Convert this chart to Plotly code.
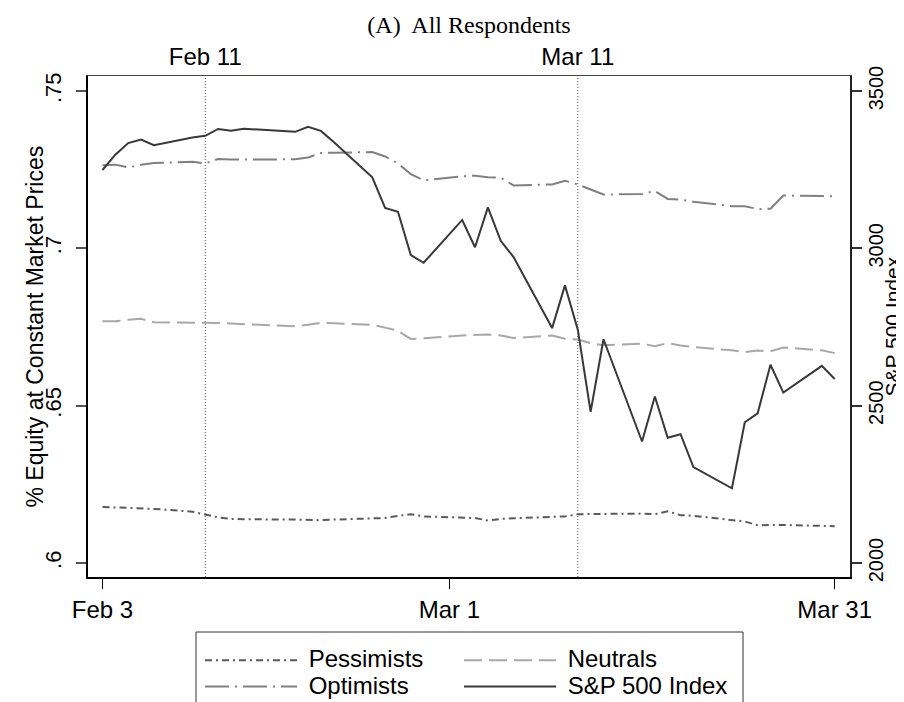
import plotly.graph_objects as go

dates = ["2020-02-03", "2020-02-04", "2020-02-05", "2020-02-06", "2020-02-07",
         "2020-02-10", "2020-02-11", "2020-02-12", "2020-02-13", "2020-02-14",
         "2020-02-18", "2020-02-19", "2020-02-20", "2020-02-21",
         "2020-02-24", "2020-02-25", "2020-02-26", "2020-02-27", "2020-02-28",
         "2020-03-02", "2020-03-03", "2020-03-04", "2020-03-05", "2020-03-06",
         "2020-03-09", "2020-03-10", "2020-03-11", "2020-03-12", "2020-03-13",
         "2020-03-16", "2020-03-17", "2020-03-18", "2020-03-19", "2020-03-20",
         "2020-03-23", "2020-03-24", "2020-03-25", "2020-03-26", "2020-03-27",
         "2020-03-30", "2020-03-31"]

pessimists = [0.6178, 0.6177, 0.6174, 0.6174, 0.6172, 0.6163, 0.6155, 0.6145, 0.6140, 0.6139,
              0.6138, 0.6137, 0.6136, 0.6138, 0.6141, 0.6143, 0.6150, 0.6155, 0.6148,
              0.6146, 0.6143, 0.6135, 0.6140, 0.6142, 0.6146, 0.6148, 0.6155, 0.6156, 0.6156,
              0.6157, 0.6155, 0.6164, 0.6152, 0.6150, 0.6138, 0.6132, 0.6120, 0.6121, 0.6121,
              0.6118, 0.6117]

neutrals = [0.6768, 0.6768, 0.6773, 0.6776, 0.6765, 0.6765, 0.6764, 0.6763, 0.6761, 0.6759,
            0.6752, 0.6757, 0.6763, 0.6762, 0.6757, 0.6748, 0.6738, 0.6712, 0.6714,
            0.6723, 0.6724, 0.6726, 0.6723, 0.6715, 0.6723, 0.6713, 0.6710, 0.6699, 0.6692,
            0.6697, 0.6689, 0.6699, 0.6691, 0.6686, 0.6676, 0.6670, 0.6675, 0.6673, 0.6685,
            0.6676, 0.6667]

optimists = [0.7264, 0.7266, 0.7257, 0.7266, 0.7271, 0.7275, 0.7270, 0.7284, 0.7282, 0.7282,
             0.7283, 0.7289, 0.7303, 0.7304, 0.7306, 0.7292, 0.7270, 0.7236, 0.7216,
             0.7229, 0.7231, 0.7226, 0.7224, 0.7200, 0.7203, 0.7215, 0.7203, 0.7187, 0.7171,
             0.7173, 0.7182, 0.7157, 0.7155, 0.7148, 0.7134, 0.7134, 0.7125, 0.7126, 0.7168,
             0.7166, 0.7165]

sp500 = [3248.92, 3297.59, 3334.69, 3345.78, 3327.71, 3352.09, 3357.75, 3379.45, 3373.94, 3380.16,
         3370.29, 3386.15, 3373.23, 3337.75, 3225.89, 3128.21, 3116.39, 2978.76, 2954.22,
         3090.23, 3003.37, 3130.12, 3023.94, 2972.37, 2746.56, 2882.23, 2741.38, 2480.64, 2711.02,
         2386.13, 2529.19, 2398.10, 2409.39, 2304.92, 2237.40, 2447.33, 2475.56, 2630.07, 2541.47,
         2626.65, 2584.59]

bottom_ticks = ["2020-02-03", "2020-03-01", "2020-03-31"]
bottom_labels = ["Feb 3", "Mar 1", "Mar 31"]
event_dates = ["2020-02-11", "2020-03-11"]
event_labels = ["Feb 11", "Mar 11"]
left_ticks = [0.6, 0.65, 0.7, 0.75]
left_labels = [".6", ".65", ".7", ".75"]
right_ticks = [2000, 2500, 3000, 3500]
right_labels = ["2000", "2500", "3000", "3500"]
left_title = "% Equity at Constant Market Prices"
right_title = "S&P 500 Index"

SANS = "Liberation Sans, Arial, sans-serif"
SERIF = "Liberation Serif, Times New Roman, serif"

# plot-area geometry in pixels
W, H = 904, 702
L, R, T, B = 80, 842, 68, 569
PW, PH = R - L, B - T


def px_x(p):
    return (p - L) / PW


def px_y(p):
    return (B - p) / PH


def lname(s):
    return '<span style="font-size:24px">\u00a0' + s + '</span>'


fig = go.Figure()
fig.add_trace(go.Scatter(x=dates, y=pessimists, name=lname("Pessimists"), mode="lines",
                         legend="legend",
                         line=dict(color="#5a5a5a", width=2, dash="7px,4px,2px,4px")))
fig.add_trace(go.Scatter(x=dates, y=optimists, name=lname("Optimists"), mode="lines",
                         legend="legend",
                         line=dict(color="#808080", width=2, dash="24px,6px,2px,6px")))
fig.add_trace(go.Scatter(x=dates, y=neutrals, name=lname("Neutrals"), mode="lines",
                         legend="legend2",
                         line=dict(color="#a8a8a8", width=2, dash="18px,7px")))
fig.add_trace(go.Scatter(x=dates, y=sp500, name=lname("S&P 500 Index"), mode="lines",
                         yaxis="y2", legend="legend2",
                         line=dict(color="#383838", width=2)))
# invisible trace to carry the top axis
fig.add_trace(go.Scatter(x=event_dates, y=[0.7, 0.7], xaxis="x2", mode="lines",
                         line=dict(width=0), showlegend=False, hoverinfo="skip", opacity=0))

for d in event_dates:
    fig.add_shape(type="line", xref="x", yref="paper", x0=d, x1=d, y0=0, y1=1,
                  line=dict(color="#555555", width=1, dash="1px,2px"), layer="below")

# legend frame
fig.add_shape(type="rect", xref="paper", yref="paper",
              x0=px_x(188), x1=px_x(735), y0=px_y(701), y1=px_y(624),
              line=dict(color="#333333", width=1), fillcolor="rgba(0,0,0,0)")

# axis titles
fig.add_annotation(text=left_title, xref="paper", yref="paper", x=px_x(26), y=0.5,
                   xanchor="center", yanchor="middle", textangle=-90, showarrow=False,
                   font=dict(family=SANS, size=23, color="black"))
fig.add_annotation(text=right_title, xref="paper", yref="paper", x=px_x(884), y=0.5,
                   xanchor="center", yanchor="middle", textangle=-90, showarrow=False,
                   borderpad=0, font=dict(family=SANS, size=21, color="black"))

xrange = ["2020-02-01 20:53", "2020-04-01 04:34"]

legend_common = dict(orientation="v", xanchor="left", yanchor="top", borderwidth=0,
                     bgcolor="rgba(0,0,0,0)", font=dict(family=SANS, size=18, color="black"),
                     itemwidth=92, traceorder="normal", tracegroupgap=0)

fig.update_layout(
    width=W, height=H,
    margin=dict(l=L, r=W - R, t=T, b=H - B, autoexpand=False),
    paper_bgcolor="white", plot_bgcolor="white",
    font=dict(family=SANS, size=22, color="black"),
    title=dict(text="(A)  All Respondents", x=0.5, xref="paper", xanchor="center",
               y=1 - 17 / H, yref="container", yanchor="middle",
               font=dict(family=SERIF, size=24, color="black")),
    xaxis=dict(type="date", range=xrange, tickmode="array", tickvals=bottom_ticks,
               ticktext=bottom_labels, showgrid=False, zeroline=False,
               showline=True, linecolor="black", linewidth=2,
               ticks="outside", ticklen=10, tickwidth=1, tickcolor="black",
               tickfont=dict(family=SANS, size=24)),
    xaxis2=dict(type="date", range=xrange, overlaying="x", side="top", anchor="y",
                tickmode="array", tickvals=event_dates, ticktext=event_labels,
                showgrid=False, zeroline=False, showline=True, linecolor="#444444",
                linewidth=1, ticks="", tickfont=dict(family=SANS, size=24)),
    yaxis=dict(range=[0.59555, 0.75477], tickmode="array", tickvals=left_ticks,
               ticktext=left_labels, tickangle=-90, showgrid=False, zeroline=False,
               showline=True, linecolor="black", linewidth=2,
               ticks="outside", ticklen=10, tickwidth=2, tickcolor="#555555",
               tickfont=dict(family=SANS, size=22), ticklabelstandoff=6),
    yaxis2=dict(range=[1955.5, 3547.7], overlaying="y", side="right", anchor="x",
                tickmode="array", tickvals=right_ticks, ticktext=right_labels,
                tickangle=-90, showgrid=False, zeroline=False,
                showline=True, linecolor="#222222", linewidth=1.5,
                ticks="outside", ticklen=10, tickwidth=1.5, tickcolor="#333333",
                tickfont=dict(family=SANS, size=20), ticklabelstandoff=-3),
    legend=dict(x=px_x(192), y=px_y(634), **legend_common),
    legend2=dict(x=px_x(451), y=px_y(634), **legend_common),
    showlegend=True,
)

fig.write_html("out.html")
